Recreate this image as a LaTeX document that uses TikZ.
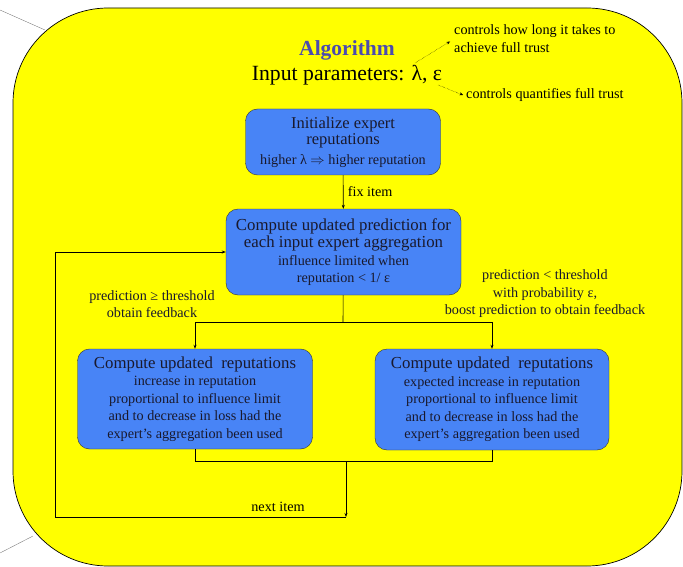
\documentclass[tikz,border=0pt]{standalone}
\usepackage{fontspec}
\setmainfont{Liberation Serif}
\usetikzlibrary{arrows.meta}

\definecolor{slideyellow}{RGB}{255,255,0}
\definecolor{boxblue}{RGB}{72,132,246}
\definecolor{titleblue}{RGB}{75,75,175}
\definecolor{inktext}{RGB}{25,25,45}

\newcommand{\headsize}{\fontsize{16.8}{19}\selectfont}
\newcommand{\notesize}{\fontsize{14.2}{17.5}\selectfont}

\tikzset{
  stage/.style={draw=black!80, fill=boxblue, rounded corners=12pt, align=center,
    text=inktext, inner sep=2pt, font=\notesize},
  flow/.style={-{Stealth[length=4pt,width=3pt]}, line width=0.6pt},
  tip/.style={-{Stealth[length=3.5pt,width=3pt]}, densely dotted, line width=0.4pt},
  remark/.style={align=center, text=inktext, font=\notesize},
}

\begin{document}
\begin{tikzpicture}[x=1pt, y=-1pt]
    \useasboundingbox (0,0) rectangle (683,567);
    \draw[gray, line width=0.4pt] (0,10) -- (45,30);  % 左上引线
    \draw[gray, line width=0.4pt] (0,553) -- (33,536); % 左下引线
    \draw[fill=slideyellow, line width=0.7pt, rounded corners=95pt] (13,8) rectangle (682,566); % 黄色底板

    \node[font=\bfseries\fontsize{21.5}{24}\selectfont, text=titleblue] (title) at (347,50) {Algorithm}; % 标题
    \node[font=\fontsize{21.7}{24}\selectfont] (params) at (347,75) {Input parameters: λ, ε}; % 参数
    \node[anchor=west, align=left, font=\notesize, inner sep=0pt] (note1) at (454,38.5) {controls how long it takes to\\achieve full trust}; % 注释1
    \node[anchor=west, font=\notesize, inner sep=0pt] (note2) at (466,95) {controls quantifies full trust}; % 注释2
    \coordinate (lam) at (415,63);
    \coordinate (eps) at (438,85);
    \draw[tip] (lam) -- ([xshift=-4pt,yshift=-3pt]note1.west);
    \draw[tip] (eps) -- ([xshift=-3pt]note2.west);

    \node[stage, minimum width=195pt, minimum height=66pt] (init) at (343,142)
      {{\fontsize{16.5}{18.5}\selectfont Initialize expert}\\[-1pt]{\fontsize{16.5}{18.5}\selectfont reputations}\\[2pt]higher λ $\Rightarrow$ higher reputation}; % 初始化
    \node[stage, minimum width=235pt, minimum height=86pt] (pred) at (343.5,252)
      {{\headsize Compute updated prediction for}\\[0pt]{\headsize each input expert aggregation}\\influence limited when\\reputation < 1/ ε}; % 预测
    \node[stage, minimum width=235pt, minimum height=100pt] (upL) at (195,399)
      {{\headsize Compute updated~ reputations}\\increase in reputation\\proportional to influence limit\\and to decrease in loss had the\\expert’s aggregation been used}; % 左更新
    \node[stage, minimum width=234pt, minimum height=101pt] (upR) at (492,399.5)
      {{\headsize Compute updated~ reputations}\\expected increase in reputation\\proportional to influence limit\\and to decrease in loss had the\\expert’s aggregation been used}; % 右更新

    \node[remark] (fb) at (152,304) {prediction ≥ threshold\\obtain feedback}; % 左条件
    \node[remark] (boost) at (545,294) {prediction < threshold\\with probability ε,\\boost prediction to obtain feedback}; % 右条件

    \coordinate (split) at (343,322);
    \coordinate (sl) at (195,322);
    \coordinate (sr) at (492,322);
    \coordinate (ml) at (195,461);
    \coordinate (mm) at (346,461);
    \coordinate (mr) at (492,461);
    \coordinate (nx) at (346,517);
    \coordinate (lc) at (55,517);
    \coordinate (tc) at (55,252);

    \draw[flow] (init) -- node[right, font=\notesize, xshift=1pt] (fix) {fix item} (pred); % 取样本
    \draw[line width=0.6pt] (pred) -- (split);
    \draw[line width=0.6pt] (sl) -- (sr);
    \draw[flow] (sl) -- (upL);
    \draw[flow] (sr) -- (upR);
    \draw[line width=0.6pt] (upL) -- (ml) -- (mr) -- (upR);
    \draw[flow] (mm) -- (nx);
    \draw[flow] (nx) -- (lc) -- (tc) -- (pred); % 回到预测
    \node[font=\notesize] (next) at (278,507) {next item};
\end{tikzpicture}
\end{document}
